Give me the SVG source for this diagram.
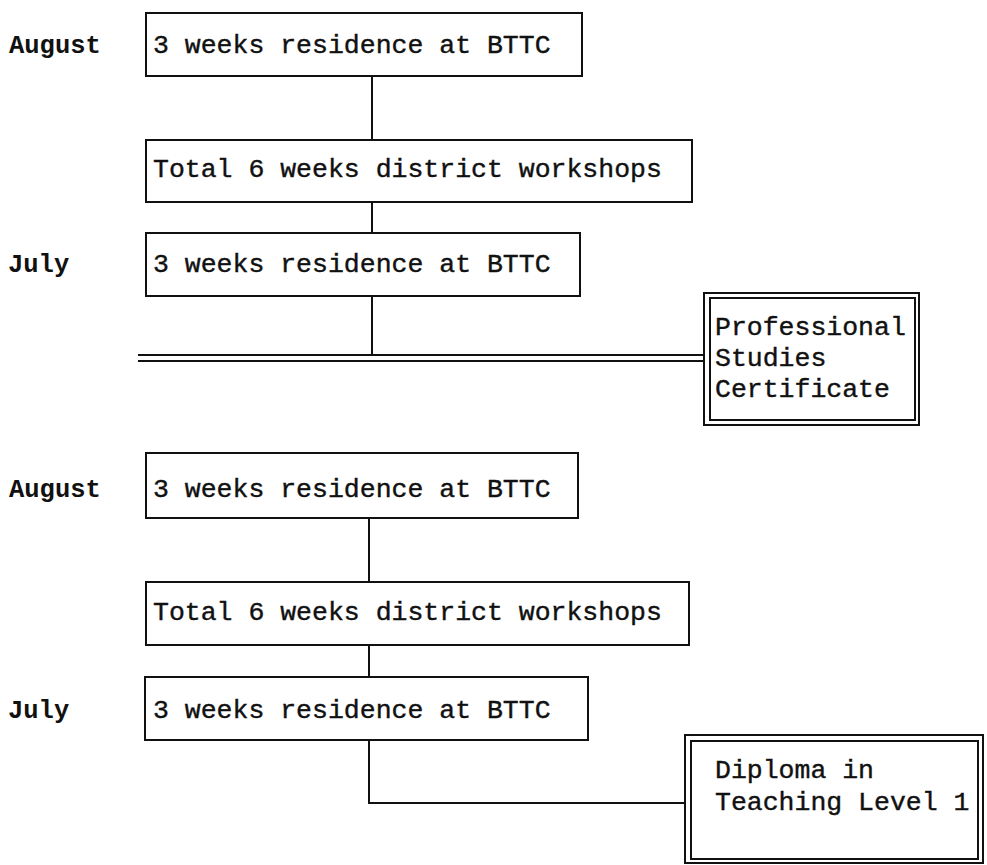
<svg xmlns="http://www.w3.org/2000/svg" width="987" height="865" viewBox="0 0 987 865">
<style>
.box{fill:#fff;stroke:#111;stroke-width:2}
.cert{fill:none;stroke:#111;stroke-width:2}
.t{font-family:"Liberation Mono","DejaVu Sans Mono",monospace;font-size:26.5px;fill:#111;stroke:#111;stroke-width:0.4}
.lbl{font-family:"Liberation Mono","DejaVu Sans Mono",monospace;font-size:25.5px;font-weight:bold;fill:#111}
.c{fill:none;stroke:#111;stroke-width:2}
</style>
<rect width="987" height="865" fill="#fff"/>
<g id="connectors">
<line class="c" x1="372" y1="76" x2="372" y2="140"/>
<line class="c" x1="372" y1="202" x2="372" y2="233"/>
<line class="c" x1="372" y1="296" x2="372" y2="355"/>
<line class="c" x1="138" y1="355" x2="704" y2="355"/>
<line class="c" x1="138" y1="361" x2="704" y2="361"/>
<line class="c" x1="369" y1="518" x2="369" y2="582"/>
<line class="c" x1="369" y1="645" x2="369" y2="677"/>
<polyline class="c" points="369,740 369,803 685,803"/>
</g>
<g id="label-august-1"><text class="lbl" x="9" y="53">August</text></g>
<g id="label-july-1"><text class="lbl" x="8" y="272">July</text></g>
<g id="label-august-2"><text class="lbl" x="9" y="497">August</text></g>
<g id="label-july-2"><text class="lbl" x="8" y="718">July</text></g>
<g id="n1"><rect class="box" x="146" y="13" width="436" height="63"/><text class="t" x="153" y="53">3 weeks residence at BTTC</text></g>
<g id="n2"><rect class="box" x="146" y="140" width="546" height="62"/><text class="t" x="153" y="177">Total 6 weeks district workshops</text></g>
<g id="n3"><rect class="box" x="146" y="233" width="434" height="63"/><text class="t" x="153" y="272">3 weeks residence at BTTC</text></g>
<g id="cert1"><rect class="cert" x="704" y="293" width="215" height="132"/><rect class="cert" x="710" y="298" width="205" height="122"/><text class="t" x="715" y="335">Professional</text><text class="t" x="715" y="366">Studies</text><text class="t" x="715" y="397">Certificate</text></g>
<g id="n4"><rect class="box" x="146" y="453" width="432" height="65"/><text class="t" x="153" y="497">3 weeks residence at BTTC</text></g>
<g id="n5"><rect class="box" x="146" y="582" width="543" height="63"/><text class="t" x="153" y="620">Total 6 weeks district workshops</text></g>
<g id="n6"><rect class="box" x="145" y="677" width="443" height="63"/><text class="t" x="153" y="718">3 weeks residence at BTTC</text></g>
<g id="cert2"><rect class="cert" x="685" y="735" width="298" height="128"/><rect class="cert" x="691" y="741" width="287" height="118"/><text class="t" x="715" y="778">Diploma in</text><text class="t" x="715" y="810">Teaching Level 1</text></g>
</svg>
